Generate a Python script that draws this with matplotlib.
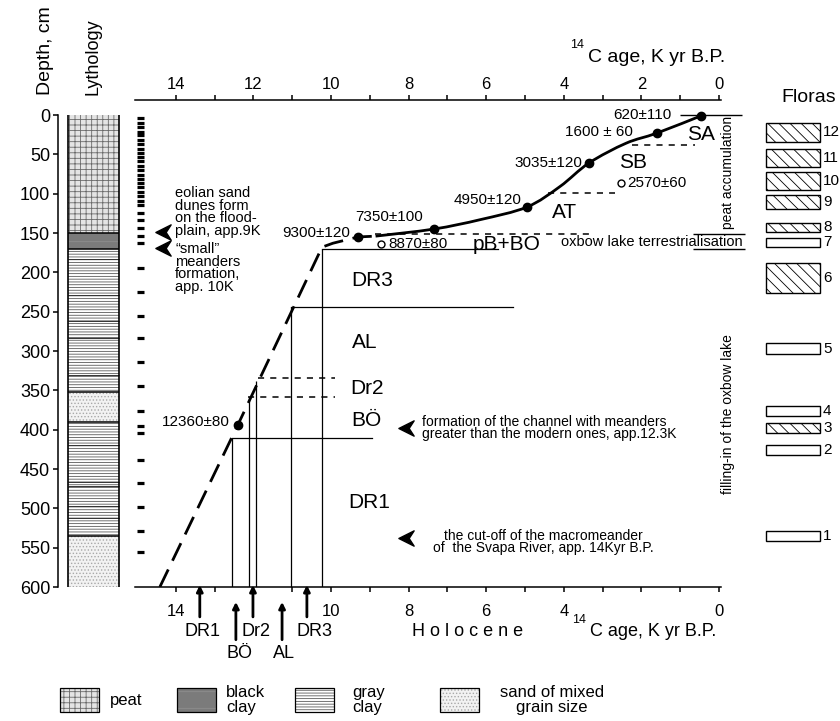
import matplotlib
matplotlib.use('Agg')
import matplotlib.pyplot as plt
from matplotlib.patches import Rectangle, PathPatch
from matplotlib.path import Path

plt.rcParams['font.family'] = ['Liberation Sans', 'DejaVu Sans']
plt.rcParams['hatch.linewidth'] = 0.6

# ---------------- data ----------------
depth_ticks = [0, 50, 100, 150, 200, 250, 300, 350, 400, 450, 500, 550, 600]
age_major = [0, 2, 4, 6, 8, 10, 12, 14]
age_minor = [1, 3, 5, 7, 9, 11, 13]
top_age_labels = ['0', '2', '4', '6', '8', '10', '12', '14']
bottom_age_labels = ['0', '', '4', '6', '8', '10', '', '14']

lith_top = [0, 150, 170, 352, 390, 535]
lith_bottom = [150, 170, 352, 390, 535, 600]
lith_type = ['peat', 'black clay', 'gray clay', 'sand', 'gray clay', 'sand']
clay_dark_lines = [183, 229, 262, 283, 330, 420, 466, 472, 497, 512]

sample_depths = [4, 10, 15, 21, 26, 32, 37, 43, 48, 54, 59, 65, 70, 76, 81, 87, 92,
                 98, 103, 109, 114, 124, 134, 144, 154, 163, 195, 225, 255, 284,
                 314, 344, 376, 395, 404, 439, 468, 498, 529, 555]

dated_labels = ['620±110', '1600 ± 60', '3035±120', '4950±120', '7350±100', '9300±120', '12360±80']
dated_age = [0.46, 1.6, 3.35, 4.95, 7.35, 9.3, 12.4]
dated_depth = [1, 23, 61, 117, 145, 155, 394]

open_labels = ['2570±60', '8870±80']
open_age = [2.53, 8.71]
open_depth = [86, 164]

curve_age = [8.85, 7.35, 6.15, 4.95, 4.1, 3.35, 2.4, 1.6, 0.46]
curve_depth = [154, 145, 133, 117, 91, 61, 36, 23, 1]

extrap_age = [14.41, 12.4, 10.23, 9.95, 9.3, 8.85]
extrap_depth = [600, 394, 168, 163, 155, 154]

# zone boundaries: vertical lines (age, from depth to 600)
vline_age = [12.55, 12.11, 11.93, 11.03, 10.23]
vline_top = [411, 358, 338, 244, 170]
# horizontal boundaries: depth, age from, age to, style
hline_depth = [411, 358, 334, 244, 170, 151, 99, 38]
hline_from = [12.55, 12.14, 11.88, 11.03, 10.23, 8.87, 4.4, 2.24]
hline_to = [8.94, 9.9, 9.9, 5.3, 5.7, 3.3, 2.68, 0.62]
hline_style = ['solid', 'dash', 'dash', 'solid', 'solid', 'dash', 'dash', 'dash']

zone_arrow_labels = ['DR1', 'BÖ', 'Dr2', 'AL', 'DR3']
zone_arrow_age = [13.38, 12.45, 12.01, 11.26, 10.62]
zone_arrow_row = [0, 1, 0, 1, 0]

flora_ids = ['1', '2', '3', '4', '5', '6', '7', '8', '9', '10', '11', '12']
flora_top = [529, 419, 392, 370, 290, 188, 156, 137, 102, 72, 43, 10]
flora_bottom = [541, 432, 404, 383, 304, 226, 168, 149, 119, 95, 66, 34]
flora_hatched = [False, False, True, False, False, True, False, True, True, True, True, True]

# ---------------- figure ----------------
W, H = 840, 721
fig = plt.figure(figsize=(W / 100, H / 100), dpi=100)


def fr(x0, y0, x1, y1):
    return [x0 / W, 1 - y1 / H, (x1 - x0) / W, (y1 - y0) / H]


def smooth_path(xs, ys):
    """Catmull-Rom spline through the given points, as cubic Bezier path."""
    pts = list(zip(xs, ys))
    verts = [pts[0]]
    codes = [Path.MOVETO]
    n = len(pts)
    for i in range(n - 1):
        p0 = pts[i - 1] if i > 0 else pts[i]
        p1 = pts[i]
        p2 = pts[i + 1]
        p3 = pts[i + 2] if i + 2 < n else pts[i + 1]
        c1 = (p1[0] + (p2[0] - p0[0]) / 6, p1[1] + (p2[1] - p0[1]) / 6)
        c2 = (p2[0] - (p3[0] - p1[0]) / 6, p2[1] - (p3[1] - p1[1]) / 6)
        verts += [c1, c2, p2]
        codes += [Path.CURVE4] * 3
    return Path(verts, codes)


lith_style = {
    'peat': dict(facecolor='#e4e4e4', hatch='+++', edgecolor='#6a6a6a'),
    'black clay': dict(facecolor='#7b7b7b', hatch='-', edgecolor='#8e8e8e'),
    'gray clay': dict(facecolor='white', hatch='------', edgecolor='#5a5a5a'),
    'sand': dict(facecolor='#f2f2f2', hatch='.....', edgecolor='#a8a8a8'),
}

# lithology / depth axis
axl = fig.add_axes(fr(58, 115, 125, 587))
axl.set_xlim(0, 67)
axl.set_ylim(600, 0)
for s in ['right', 'top', 'bottom']:
    axl.spines[s].set_visible(False)
axl.spines['left'].set_linewidth(1.1)
axl.set_xticks([])
axl.set_yticks(depth_ticks)
axl.tick_params(axis='y', direction='out', length=3.6, width=1.1, labelsize=13, pad=2)
axl.patch.set_alpha(0)
for t, b, ty in zip(lith_top, lith_bottom, lith_type):
    axl.add_patch(Rectangle((10, t), 51, b - t, lw=0, **lith_style[ty]))
axl.hlines(clay_dark_lines, 10, 61, color='#333333', lw=0.7)
axl.hlines(lith_top[1:], 10, 61, color='k', lw=1.1)
axl.vlines([10, 61], 0, 600, color='k', lw=1.2)

# main age-depth axes
ax = fig.add_axes(fr(135, 100, 840, 587))
ax.set_xlim(15.05, -3.119)
ax.set_ylim(600, -19.07)
ax.patch.set_alpha(0)
for s in ['left', 'right', 'top']:
    ax.spines[s].set_visible(False)
ax.spines['bottom'].set_bounds(-0.04, 15.05)
ax.spines['bottom'].set_linewidth(1.1)
ax.set_yticks([])
ax.set_xticks(age_major)
ax.set_xticklabels(bottom_age_labels)
ax.set_xticks(age_minor, minor=True)
ax.tick_params(axis='x', which='both', direction='out', length=3.6, width=1.1,
               labelsize=12, pad=9)

sec = ax.secondary_xaxis('top')
sec.set_xticks(age_major)
sec.set_xticklabels(top_age_labels)
sec.set_xticks(age_minor, minor=True)
sec.tick_params(axis='x', which='both', direction='out', length=3.6, width=1.1,
                labelsize=12, pad=2)
sec.spines['top'].set_bounds(-0.04, 15.05)
sec.spines['top'].set_linewidth(1.1)

# sample positions
ax.hlines(sample_depths, 15.0, 14.82, color='k', lw=2.3)

# zone lines
ax.vlines(vline_age, vline_top, 600, color='k', lw=0.9)
for d, a0, a1, st in zip(hline_depth, hline_from, hline_to, hline_style):
    if st == 'solid':
        ax.plot([a0, a1], [d, d], color='k', lw=0.9)
    else:
        ax.plot([a0, a1], [d, d], color='k', lw=1.1, dashes=(4, 4))
ax.hlines([151, 170], 0.67, -0.67, color='k', lw=1.0)
ax.hlines([0], 1.0, -0.6, color='k', lw=1.0)

# age-depth model
ax.plot(extrap_age, extrap_depth, color='k', lw=2.0, dashes=(7, 3.5), zorder=4)
ax.add_patch(PathPatch(smooth_path(curve_age, curve_depth), fill=False,
                       edgecolor='k', lw=2.0, zorder=4))
ax.plot(dated_age, dated_depth, 'o', color='k', ms=6, zorder=5)
ax.plot(open_age, open_depth, 'o', mfc='white', mec='k', ms=5, mew=1.0, zorder=5)

# floras
for t, b, h in zip(flora_top, flora_bottom, flora_hatched):
    ax.add_patch(Rectangle((-1.22, t), -1.39, b - t, facecolor='white', edgecolor='k',
                           lw=1.0, hatch='\\\\\\' if h else None, clip_on=False))

# bottom arrows
for a, r in zip(zone_arrow_age, zone_arrow_row):
    tip, tail = (597.5, 638) if r == 0 else (619, 667)
    ax.annotate('', xy=(a, tip), xytext=(a, tail), annotation_clip=False,
                arrowprops=dict(arrowstyle='-|>', lw=2.0, color='k', mutation_scale=9,
                                shrinkA=0, shrinkB=0))

# chevrons
chev = Path([(1, 1), (-1, 0), (1, -1), (0.35, 0), (1, 1)],
            [Path.MOVETO, Path.LINETO, Path.LINETO, Path.LINETO, Path.CLOSEPOLY])
ax.plot([14.33, 14.33, 8.07, 8.07], [149, 169, 398, 538], ls='none', marker=chev,
        ms=11, color='k', clip_on=False)

# ---------------- overlay text (pixel coords) ----------------
ov = fig.add_axes([0, 0, 1, 1])
ov.set_xlim(0, W)
ov.set_ylim(H, 0)
ov.axis('off')


def T(x, y, s, fs=11, ha='center', va='center', **kw):
    ov.text(x, y, s, fontsize=fs, ha=ha, va=va, **kw)


T(45, 95, 'Depth, cm', 14, va='bottom', rotation=90)
T(93, 95, 'Lythology', 13, va='bottom', rotation=90)
T(577, 45, '14', 9)
T(588, 58, 'C age, K yr B.P.', 14, ha='left')
T(809, 97, 'Floras', 14)
for fid, t, b in zip(flora_ids, flora_top, flora_bottom):
    T(823, 115 + 0.78667 * (t + b) / 2, fid, 11, ha='left')

T(175, 186, 'eolian sand\ndunes form\non the flood-\nplain, app.9K', 10.5, ha='left', va='top', linespacing=0.88)
T(175, 242, '\u201csmall\u201d\nmeanders\nformation,\napp. 10K', 10.5, ha='left', va='top', linespacing=0.88)

# value labels
T(672, 115, '620±110', 11, ha='right')
T(633, 132, '1600 ± 60', 11, ha='right')
T(582, 163, '3035±120', 11, ha='right')
T(521, 200, '4950±120', 11, ha='right')
T(423, 217, '7350±100', 11, ha='right')
T(350, 233, '9300±120', 11, ha='right')
T(230, 422, '12360±80', 11, ha='right')
T(627, 183, '2570±60', 11, ha='left')
T(388, 244, '8870±80', 11, ha='left')

# pollen zones
T(701, 135, 'SA', 15)
T(633, 163, 'SB', 15)
T(565, 213, 'AT', 15)
T(507, 244, 'pB+BO', 15)
T(372, 280, 'DR3', 15)
T(365, 343, 'AL', 15)
T(367, 389, 'Dr2', 15)
T(366, 420, 'BÖ', 15)
T(369, 502, 'DR1', 15)

T(422, 428, 'formation of the channel with meanders\ngreater than the modern ones, app.12.3K',
  10, ha='left', linespacing=0.8)
T(543, 542, 'the cut-off of the macromeander\nof  the Svapa River, app. 14Kyr B.P.',
  10, linespacing=0.8, multialignment='center')
T(743, 242, 'oxbow lake terrestrialisation', 10.5, ha='right')
T(728, 172, 'peat accumulation', 10, rotation=90)
T(728, 414, 'filling-in of the oxbow lake', 10, rotation=90)

# bottom labels
for lab, x, y in [('DR1', 202, 632), ('Dr2', 256, 632), ('DR3', 315, 632),
                  ('BÖ', 240, 653), ('AL', 284, 653)]:
    T(x, y, lab, 13)
T(468, 632, 'H o l o c e n e', 13)
T(579, 620, '14', 9)
T(590, 632, 'C age, K yr B.P.', 13, ha='left')

# legend
for x0, key in [(60, 'peat'), (177, 'black clay'), (295, 'gray clay'), (440, 'sand')]:
    ov.add_patch(Rectangle((x0, 688), 39, 24, lw=0, **lith_style[key]))
    ov.add_patch(Rectangle((x0, 688), 39, 24, lw=0.9, fill=False, edgecolor='k'))
T(110, 700, 'peat', 12, ha='left')
T(226, 700, 'black\nclay', 12, ha='left', linespacing=1.05)
T(352, 700, 'gray\nclay', 12, ha='left', linespacing=1.05)
T(552, 700, 'sand of mixed\ngrain size', 12, linespacing=1.05)

fig.savefig('out.png', dpi=100)
